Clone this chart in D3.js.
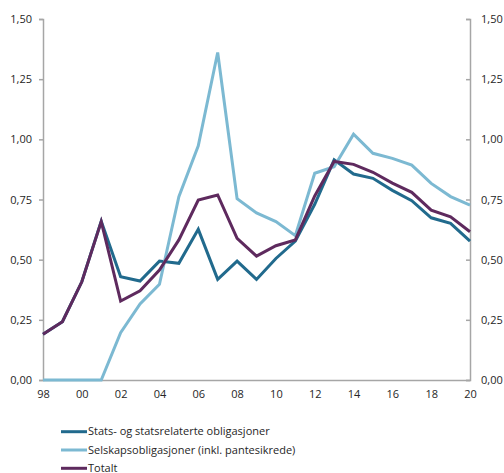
<!DOCTYPE html>
<html>
<head>
<meta charset="utf-8">
<script src="https://cdn.jsdelivr.net/npm/d3@7"></script>
<style>
  body { margin: 0; background: #fff; }
  text { font-family: "Open Sans", "DejaVu Sans", sans-serif; fill: #262626; }
</style>
</head>
<body>
<script>
// Years on the x-axis (1998 - 2020)
var years = d3.range(1998, 2021);

// Series values
var stats = [0.19, 0.242, 0.408, 0.66, 0.429, 0.411, 0.494, 0.485, 0.626, 0.418, 0.494, 0.418,
    0.505, 0.577, 0.73, 0.915, 0.856, 0.838, 0.788, 0.745, 0.674, 0.651, 0.577];
var selskap = [0, 0, 0, 0, 0.197, 0.316, 0.398, 0.762, 0.973, 1.361, 0.753, 0.694,
    0.658, 0.60, 0.859, 0.886, 1.021, 0.942, 0.921, 0.893, 0.817, 0.762, 0.727];
var totalt = [0.19, 0.242, 0.408, 0.658, 0.328, 0.371, 0.457, 0.582, 0.748, 0.769, 0.589, 0.515,
    0.558, 0.582, 0.765, 0.908, 0.896, 0.863, 0.818, 0.78, 0.706, 0.678, 0.616];

var seriesNames = ["Stats- og statsrelaterte obligasjoner", "Selskapsobligasjoner (inkl. pantesikrede)", "Totalt"];
var seriesColors = ["#216a8d", "#7cb9d2", "#5e2a5e"];
var yTicks = [0, 0.25, 0.5, 0.75, 1.0, 1.25, 1.5];
var xTicks = d3.range(1998, 2021, 2);

var width = 504, height = 473;
var plot = { left: 43, right: 470, top: 19, bottom: 380 };

var svg = d3.select("body").append("svg")
    .attr("width", width)
    .attr("height", height);

var x = d3.scaleLinear().domain([1998, 2020]).range([plot.left, plot.right]);
var y = d3.scaleLinear().domain([0, 1.5]).range([plot.bottom, plot.top]);
var fmt = function (d) { return d3.format(".2f")(d).replace(".", ","); };

// Left axis
var yLeft = svg.append("g")
    .attr("transform", "translate(" + plot.left + ",0)")
    .call(d3.axisLeft(y).tickValues(yTicks).tickSize(4).tickPadding(7).tickFormat(fmt));

// Right axis
var yRight = svg.append("g")
    .attr("transform", "translate(" + plot.right + ",0)")
    .call(d3.axisRight(y).tickValues(yTicks).tickSize(-4).tickPadding(11).tickFormat(fmt));

// Bottom axis
var xAxis = svg.append("g")
    .attr("transform", "translate(0," + plot.bottom + ")")
    .call(d3.axisBottom(x).tickValues(xTicks).tickSize(0).tickPadding(10)
        .tickFormat(function (d) { return d3.format("02")(d % 100); }));

[yLeft, yRight, xAxis].forEach(function (g) {
    g.select(".domain").attr("stroke", "#a6a6a6").attr("stroke-width", 1.5);
    g.selectAll(".tick line").attr("stroke", "#a6a6a6").attr("stroke-width", 1.5);
    g.selectAll(".tick text").attr("font-size", "11px").attr("fill", "#262626")
        .style("font-family", "'Open Sans', sans-serif");
});

// Draw the lines
var line = d3.line()
    .x(function (d, i) { return x(years[i]); })
    .y(function (d) { return y(d); });

[stats, selskap, totalt].forEach(function (s, i) {
    svg.append("path")
        .datum(s)
        .attr("fill", "none")
        .attr("stroke", seriesColors[i])
        .attr("stroke-width", 3)
        .attr("stroke-linejoin", "miter")
        .attr("d", line);
});

// Legend
var legend = svg.append("g");
seriesNames.forEach(function (name, i) {
    var ly = 431.7 + i * 18.3;
    legend.append("line")
        .attr("x1", 61).attr("x2", 87)
        .attr("y1", ly).attr("y2", ly)
        .attr("stroke", seriesColors[i])
        .attr("stroke-width", 3);
    legend.append("text")
        .attr("x", 88)
        .attr("y", ly)
        .attr("dy", "0.33em")
        .attr("font-size", "11px")
        .text(name);
});
</script>
</body>
</html>
